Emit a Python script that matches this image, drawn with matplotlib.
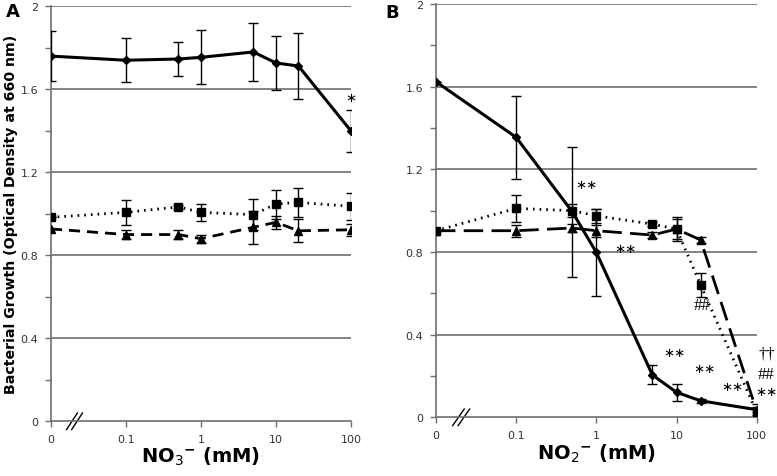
import matplotlib
matplotlib.use("Agg")
import matplotlib.pyplot as plt
import numpy as np

# concentrations (mM); 0 is drawn one decade left of 0.1
conc = [0, 0.1, 0.5, 1, 5, 10, 20, 100]

# panel A - nitrate
a_dia = [1.76, 1.74, 1.746, 1.754, 1.78, 1.727, 1.712, 1.40]
a_dia_err = [0.12, 0.105, 0.08, 0.13, 0.14, 0.13, 0.16, 0.10]
a_sq = [0.983, 1.007, 1.033, 1.007, 0.996, 1.047, 1.055, 1.036]
a_sq_err = [0.0, 0.06, 0.01, 0.04, 0.075, 0.07, 0.07, 0.065]
a_tri = [0.927, 0.90, 0.90, 0.88, 0.935, 0.959, 0.918, 0.923]
a_tri_err = [0.0, 0.02, 0.02, 0.02, 0.08, 0.03, 0.055, 0.03]

# panel B - nitrite
b_dia = [1.624, 1.355, 0.995, 0.798, 0.205, 0.121, 0.08, 0.037]
b_dia_err = [0.0, 0.2, 0.315, 0.21, 0.046, 0.04, 0.01, 0.01]
b_sq = [0.903, 1.011, 1.0, 0.975, 0.935, 0.911, 0.64, 0.024]
b_sq_err = [0.0, 0.065, 0.03, 0.035, 0.01, 0.06, 0.06, 0.04]
b_tri = [0.903, 0.903, 0.916, 0.903, 0.882, 0.911, 0.858, 0.03]
b_tri_err = [0.0, 0.03, 0.02, 0.03, 0.015, 0.05, 0.015, 0.02]

xticks = [0.01, 0.1, 1, 10, 100]
xtick_labels = ["0", "0.1", "1", "10", "100"]

# significance marks: (x, y, text)
a_marks = [(100, 1.56, "∗")]
b_marks = [(0.75, 1.125, "∗∗"), (2.3, 0.815, "∗∗"), (9.5, 0.315, "∗∗"),
           (22, 0.235, "∗∗"), (50, 0.15, "∗∗"), (21, 0.545, "##"),
           (132, 0.31, "††"), (132, 0.21, "##"), (132, 0.125, "∗∗")]

xpos = [0.01 if c == 0 else c for c in conc]

fig = plt.figure(figsize=(7.77, 4.77), dpi=100)
axA = fig.add_axes([0.0656, 0.1147, 0.386, 0.870])
axB = fig.add_axes([0.5611, 0.123, 0.4128, 0.8665])

ser = "Liberation Serif"


def panel(ax, dia, dia_e, sq, sq_e, tri, tri_e, marks, xlabel, dash):
    ax.set_xscale("log")
    ax.set_xlim(0.01, 100)
    ax.set_ylim(0, 2)
    for v in np.arange(0.4, 2.01, 0.4):
        ax.axhline(v, color="#6e6e6e", lw=1.2, zorder=0)
    ekw = dict(ecolor="black", elinewidth=1.0, capsize=3.5, capthick=1.0)
    ax.errorbar(xpos, tri, yerr=tri_e, color="black", marker="^", ms=6,
                lw=2.0, ls=(0, dash), **ekw, zorder=3)
    ax.errorbar(xpos, sq, yerr=sq_e, color="black", marker="s", ms=6,
                lw=2.0, ls=(0, (0.6, 1.8)), **ekw, zorder=3)
    ax.errorbar(xpos, dia, yerr=dia_e, color="black", marker="D", ms=4,
                lw=2.2, ls="-", **ekw, zorder=4)
    for x, y, t in marks:
        fam = "DejaVu Sans" if "∗" in t else ser
        fs = 9.5 if "∗" in t else 12
        ax.text(x, y, t, ha="center", va="center", fontsize=fs,
                family=fam, clip_on=False)
    ax.set_xticks(xticks)
    ax.set_xticklabels(xtick_labels)
    ax.xaxis.set_minor_locator(matplotlib.ticker.NullLocator())
    ax.set_yticks(np.arange(0, 2.01, 0.4))
    ax.set_yticklabels(["0", "0.4", "0.8", "1.2", "1.6", "2"])
    ax.set_yticks(np.arange(0.2, 2.0, 0.4), minor=True)
    ax.tick_params(axis="both", which="both", labelsize=8,
                   labelcolor="#333333", color="#6e6e6e", length=4, width=1,
                   pad=5)
    for s in ["top", "right"]:
        ax.spines[s].set_visible(False)
    for s in ["left", "bottom"]:
        ax.spines[s].set_color("#6e6e6e")
        ax.spines[s].set_linewidth(1.2)
    ax.set_xlabel(xlabel, fontsize=14, fontweight="bold", labelpad=1)
    # axis break
    for dx in (0.0, 0.017):
        ax.plot([0.052 + dx, 0.088 + dx], [-0.02, 0.02], color="black",
                lw=1.0, transform=ax.transAxes, clip_on=False)


panel(axA, a_dia, a_dia_err, a_sq, a_sq_err, a_tri, a_tri_err, a_marks,
      r"NO$_3$$^{\mathbf{-}}$ (mM)", (4, 2.5))
panel(axB, b_dia, b_dia_err, b_sq, b_sq_err, b_tri, b_tri_err, b_marks,
      r"NO$_2$$^{\mathbf{-}}$ (mM)", (7, 3))

axA.set_ylabel("Bacterial Growth (Optical Density at 660 nm)", fontsize=10.2,
               fontweight="bold")
axA.yaxis.set_label_coords(-0.11, 0.5)

fig.text(0.008, 0.975, "A", fontsize=13, fontweight="bold", va="center")
fig.text(0.496, 0.972, "B", fontsize=13, fontweight="bold", va="center")

fig.savefig("out.png", dpi=100)
